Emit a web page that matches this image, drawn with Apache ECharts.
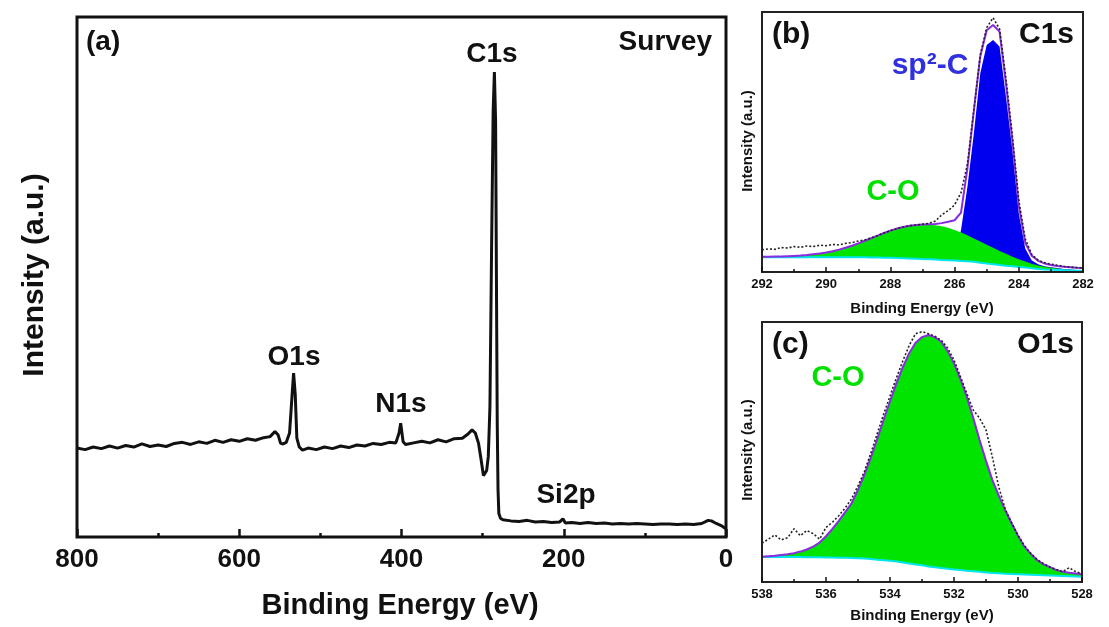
<!DOCTYPE html>
<html>
<head>
<meta charset="utf-8">
<title>XPS survey / C1s / O1s</title>
<script src="https://cdn.jsdelivr.net/npm/echarts@6/dist/echarts.min.js"></script>
<style>
  html, body { margin: 0; padding: 0; background: #fff; }
  #chart { width: 1109px; height: 627px; }
</style>
</head>
<body>
<div id="chart"></div>
<script>
// (a) survey spectrum, binding energy (eV) vs intensity (a.u., 0-100 of frame)
const surveyE = [800,790,780,770,760,750,740,730,720,710,700,690,680,670,660,650,640,630,620,610,600,590,580,570,562,556,552,549,546,542,538,535,533,531,529,526,522,515,505,495,485,475,465,455,445,435,425,415,407,403,401,398,395,385,375,365,355,345,335,325,318,313,309,305,302,299,297,295,293,291,289,287,285.5,284,283,282,281,280,278,275,265,255,245,235,225,215,205,201,198,190,180,170,160,150,140,130,120,110,100,90,80,70,60,50,40,30,22,18,12,6,2,0];
const surveyI = [17.1,16.8,17.3,17.0,17.5,17.1,17.6,17.3,17.9,17.4,17.7,17.4,18.0,18.2,17.8,18.3,18.0,18.6,18.2,18.7,18.4,18.9,18.6,19.1,19.3,20.3,19.6,18.0,17.9,18.2,20.0,27.0,31.5,27.5,19.0,17.3,16.7,17.1,16.8,17.3,17.0,17.5,17.2,17.7,17.5,18.0,17.8,18.2,18.1,20.0,21.9,18.3,17.8,18.1,18.4,18.1,18.7,18.3,18.9,19.0,19.8,20.6,20.0,18.0,15.0,11.8,11.5,12.8,15.5,25,55,82,89.4,80,50,22,9,4.5,3.6,3.3,3.1,3.0,3.2,2.9,3.0,2.8,2.9,3.5,2.7,2.8,2.6,2.8,2.6,2.7,2.5,2.6,2.5,2.6,2.5,2.4,2.5,2.5,2.4,2.5,2.4,2.6,3.2,3.1,2.6,2.2,1.8,1.6];
const surveyTicks = { min: 0, max: 800, interval: 200 };

// (b) C1s high resolution
const c1sE = [292,291.8,291.6,291.4,291.2,291,290.8,290.6,290.4,290.2,290,289.8,289.6,289.4,289.2,289,288.8,288.6,288.4,288.2,288,287.8,287.6,287.4,287.2,287,286.8,286.6,286.4,286.2,286,285.8,285.6,285.4,285.2,285,284.8,284.6,284.4,284.2,284,283.8,283.6,283.4,283.2,283,282.8,282.6,282.4,282.2,282];
const c1sBase = [5.7,5.7,5.7,5.7,5.7,5.7,5.7,5.7,5.7,5.7,5.7,5.7,5.7,5.7,5.7,5.7,5.7,5.6,5.6,5.5,5.5,5.4,5.3,5.2,5.1,5.0,4.9,4.8,4.6,4.5,4.4,4.2,4.1,3.9,3.6,3.3,3.0,2.7,2.4,2.2,1.9,1.7,1.4,1.2,1.0,0.9,0.8,0.7,0.6,0.5,0.5];
const c1sCO = [5.8,5.8,5.9,5.9,6.0,6.1,6.2,6.4,6.7,7.0,7.4,7.9,8.5,9.2,10.0,10.9,11.9,12.9,13.9,14.9,15.8,16.6,17.2,17.7,18.0,18.2,18.2,18.0,17.6,17.0,16.2,15.2,14.1,12.9,11.7,10.5,9.3,8.1,7.0,5.9,4.9,4.0,3.2,2.5,2.0,1.6,1.3,1.0,0.8,0.7,0.6];
const c1sSp2 = [5.7,5.7,5.7,5.7,5.7,5.7,5.7,5.7,5.7,5.7,5.7,5.7,5.7,5.7,5.7,5.7,5.7,5.6,5.6,5.5,5.5,5.4,5.3,5.2,5.1,5.0,4.9,4.8,4.6,4.5,6.0,16.2,32.8,53.4,76.4,87.3,89.2,86.7,67.4,46.9,22.5,9.0,4.5,3.0,2.2,1.8,1.5,1.2,1.0,0.8,0.7];
const c1sFit = [5.9,5.9,6.0,6.0,6.1,6.2,6.3,6.5,6.8,7.1,7.5,8.0,8.6,9.3,10.1,11.0,12.0,13.0,14.0,15.0,15.9,16.7,17.3,17.8,18.1,18.3,18.4,18.5,18.8,19.3,19.9,22.8,40,62,83,93,95,92.5,72.5,50.5,25.5,11.3,6.3,4.3,3.3,2.7,2.3,2.0,1.8,1.6,1.5];
const c1sRaw = [8.5,8.9,8.7,9.4,9.2,9.8,9.5,10.0,9.8,10.3,10.1,10.6,10.4,11.0,11.3,11.9,12.3,13.1,14.0,15.0,15.9,16.7,17.3,17.8,18.1,18.4,18.7,19.6,22.0,23.6,25.8,30.5,41.5,62.5,83.5,94,97.8,93.5,74.5,52.5,27.5,12.8,6.8,4.6,3.6,3.0,2.6,2.2,1.9,1.7,1.6];

// (c) O1s high resolution
const o1sE = [538,537.8,537.6,537.4,537.2,537,536.8,536.6,536.4,536.2,536,535.8,535.6,535.4,535.2,535,534.8,534.6,534.4,534.2,534,533.8,533.6,533.4,533.2,533,532.8,532.6,532.4,532.2,532,531.8,531.6,531.4,531.2,531,530.8,530.6,530.4,530.2,530,529.8,529.6,529.4,529.2,529,528.8,528.6,528.4,528.2,528];
const o1sBase = [9.6,9.6,9.6,9.6,9.6,9.6,9.6,9.5,9.5,9.5,9.4,9.4,9.3,9.3,9.2,9.1,9.0,8.8,8.6,8.4,8.2,7.9,7.5,7.1,6.7,6.4,6.0,5.7,5.4,5.1,4.8,4.6,4.3,4.1,3.9,3.7,3.5,3.4,3.2,3.1,3.0,2.9,2.8,2.7,2.6,2.5,2.4,2.3,2.2,2.1,2.0];
const o1sFit = [9.7,9.9,10.1,10.4,10.7,11.1,11.7,12.5,13.6,15.2,17.6,20.4,23.5,26.9,30.3,35.5,41.3,47.8,55.0,62.3,69.5,76.4,82.6,88.0,92.0,94.2,95.0,94.2,92.4,88.8,84.1,78.0,71.3,63.2,54.6,46.6,39.2,33.2,27.6,22.6,17.8,13.6,10.8,8.4,6.8,5.7,4.6,3.9,3.6,3.3,3.0];
const o1sRaw = [14.9,16.5,18.1,16.2,17.0,20.5,17.8,19.8,18.6,16.5,21.0,23.0,25.5,28.5,32.0,37.0,42.5,49.5,57.0,64.5,71.5,78.5,85.0,91.0,95.5,96.3,95.5,94.5,93.0,90.0,85.4,79.0,72.5,66.2,63.0,58.5,48.0,36.5,28.0,22.8,18.0,14.0,11.0,8.6,7.0,5.8,4.8,4.0,5.5,4.0,3.2];
const hiresTicks = { interval: 2 };

const FONT = '"Liberation Sans", Arial, sans-serif';
const GREEN = '#00e400';
const BLUE = '#0000ee';
const PURPLE = '#8a2be2';
const CYAN = '#00e5ee';

function pairs(xs, ys) {
  return xs.map((x, i) => [x, ys[i]]);
}

function xAxisFor(gridIndex, min, max, interval, big) {
  return {
    type: 'value', gridIndex: gridIndex, min: min, max: max, interval: interval,
    inverse: true, z: 10,
    axisLine: { show: false },
    axisTick: { show: true, inside: true, length: big ? 8 : 5, lineStyle: { color: '#111', width: big ? 2.5 : 1.5 } },
    minorTick: { show: true, splitNumber: 2, length: big ? 4 : 3, lineStyle: { color: '#111', width: big ? 2.5 : 1.5 } },
    splitLine: { show: false },
    minorSplitLine: { show: false },
    axisLabel: {
      color: '#111', fontWeight: 'bold', fontFamily: FONT,
      fontSize: big ? 26 : 13, margin: big ? 10 : 6
    }
  };
}

function yAxisFor(gridIndex) {
  return { type: 'value', gridIndex: gridIndex, min: 0, max: 100, show: false };
}

function lineSeries(xi, data, color, width, extra) {
  return Object.assign({
    type: 'line', xAxisIndex: xi, yAxisIndex: xi, data: data,
    showSymbol: false, symbol: 'none', smooth: false, animation: false,
    lineStyle: { color: color, width: width }
  }, extra || {});
}

function areaSeries(xi, data, fill, lineColor, lineWidth) {
  return lineSeries(xi, data, lineColor || fill, lineWidth || 0, {
    lineStyle: { color: lineColor || fill, width: lineWidth || 0, opacity: lineWidth ? 1 : 0 },
    areaStyle: { color: fill, opacity: 1, origin: 'start' }
  });
}

function label(text, x, y, size, color, align, rotate) {
  return {
    type: 'text', x: x, y: y, z: 100, rotation: rotate || 0,
    style: {
      text: text, fill: color || '#111',
      font: 'bold ' + size + 'px ' + FONT,
      textAlign: align || 'center', align: align || 'center',
      textVerticalAlign: 'middle', verticalAlign: 'middle'
    }
  };
}

const chart = echarts.init(document.getElementById('chart'));

const option = {
  backgroundColor: '#fff',
  animation: false,
  grid: [
    { left: 77, top: 17, width: 649, height: 520, show: true, z: 10, borderColor: '#111', borderWidth: 3, backgroundColor: 'transparent' },
    { left: 762, top: 12, width: 321, height: 260, show: true, z: 10, borderColor: '#222', borderWidth: 2, backgroundColor: 'transparent' },
    { left: 762, top: 322, width: 320, height: 260, show: true, z: 10, borderColor: '#222', borderWidth: 2, backgroundColor: 'transparent' }
  ],
  xAxis: [
    xAxisFor(0, surveyTicks.min, surveyTicks.max, surveyTicks.interval, true),
    xAxisFor(1, c1sE[c1sE.length - 1], c1sE[0], hiresTicks.interval, false),
    xAxisFor(2, o1sE[o1sE.length - 1], o1sE[0], hiresTicks.interval, false)
  ],
  yAxis: [yAxisFor(0), yAxisFor(1), yAxisFor(2)],
  series: [
    // (a)
    lineSeries(0, pairs(surveyE, surveyI), '#111', 3),
    // (b)
    areaSeries(1, pairs(c1sE, c1sSp2), BLUE),
    areaSeries(1, pairs(c1sE, c1sCO), GREEN),
    areaSeries(1, pairs(c1sE, c1sBase), '#ffffff', CYAN, 2),
    lineSeries(1, pairs(c1sE, c1sFit), PURPLE, 2),
    lineSeries(1, pairs(c1sE, c1sRaw), '#222', 1.6, { lineStyle: { color: '#222', width: 1.6, type: [2, 2] } }),
    // (c)
    areaSeries(2, pairs(o1sE, o1sFit), GREEN),
    areaSeries(2, pairs(o1sE, o1sBase), '#ffffff', CYAN, 2),
    lineSeries(2, pairs(o1sE, o1sFit), PURPLE, 2),
    lineSeries(2, pairs(o1sE, o1sRaw), '#222', 1.6, { lineStyle: { color: '#222', width: 1.6, type: [2, 2] } })
  ],
  graphic: [
    // (a)
    label('(a)', 86, 42, 28, '#111', 'left'),
    label('Survey', 712, 42, 28, '#111', 'right'),
    label('C1s', 492, 54, 28),
    label('O1s', 294, 357, 28),
    label('N1s', 401, 404, 28),
    label('Si2p', 566, 495, 28),
    label('Intensity (a.u.)', 35, 275, 30, '#111', 'center', Math.PI / 2),
    label('Binding Energy (eV)', 400, 606, 29),
    // (b)
    label('(b)', 772, 35, 30, '#111', 'left'),
    label('C1s', 1074, 35, 30, '#111', 'right'),
    label('sp²-C', 930, 66, 30, '#3030e0'),
    label('C-O', 893, 192, 29, '#00e000'),
    label('Intensity (a.u.)', 748, 141, 15, '#111', 'center', Math.PI / 2),
    label('Binding Energy (eV)', 922, 309, 15),
    // (c)
    label('(c)', 772, 345, 30, '#111', 'left'),
    label('O1s', 1074, 345, 30, '#111', 'right'),
    label('C-O', 838, 378, 29, '#00e000'),
    label('Intensity (a.u.)', 748, 450, 15, '#111', 'center', Math.PI / 2),
    label('Binding Energy (eV)', 922, 616, 15)
  ]
};

chart.setOption(option);
</script>
</body>
</html>
